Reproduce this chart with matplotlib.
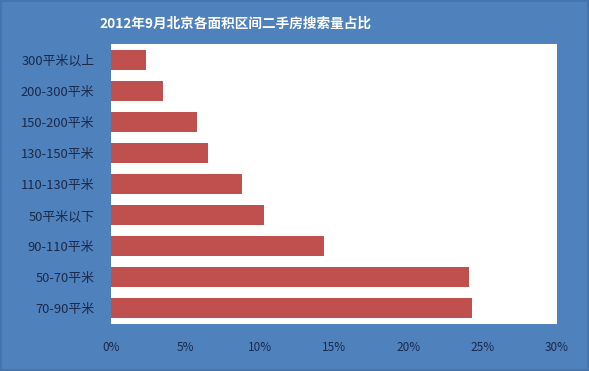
import matplotlib
matplotlib.use("Agg")
import matplotlib.pyplot as plt
from matplotlib.ticker import FuncFormatter

plt.rcParams['font.family'] = ['Noto Sans CJK SC', 'DejaVu Sans']

# data, top to bottom as shown
categories = ["300平米以上", "200-300平米", "150-200平米", "130-150平米", "110-130平米",
              "50平米以下", "90-110平米", "50-70平米", "70-90平米"]
shares = [2.35, 3.5, 5.8, 6.5, 8.8, 10.3, 14.3, 24.1, 24.3]
x_ticks = [0, 5, 10, 15, 20, 25, 30]
title = "2012年9月北京各面积区间二手房搜索量占比"

bg = "#4F81BD"
bar_col = "#C0504D"
txt_col = "#1A2A4A"

fig = plt.figure(figsize=(5.89, 3.71), dpi=100)
fig.patch.set_facecolor(bg)
fig.patch.set_edgecolor("#4675AE")
fig.patch.set_linewidth(1.5)

ax = fig.add_axes([111/589, 1 - 324/371, (557-111)/589, (324-44)/371])
ax.set_facecolor("white")

y = list(range(len(categories)))[::-1]
ax.barh(y, shares, height=0.64, color=bar_col)

ax.set_xlim(0, 30)
ax.set_ylim(-0.5, len(categories) - 0.5)
ax.set_yticks(y)
ax.set_yticklabels(categories, fontsize=9.3, color=txt_col)
ax.set_xticks(x_ticks)
ax.xaxis.set_major_formatter(FuncFormatter(lambda v, p: "%d%%" % v))
for lab in ax.get_xticklabels():
    lab.set_fontsize(8.5)
    lab.set_color(txt_col)
ax.tick_params(axis='y', length=0, pad=12)
ax.tick_params(axis='x', length=0, pad=12)
for s in ax.spines.values():
    s.set_visible(False)

fig.text(235/589, 1 - 24/371, title, color="white", fontsize=9.8,
         fontweight="bold", ha="center", va="center")

fig.savefig("out.png", dpi=100, facecolor=fig.get_facecolor(), edgecolor=fig.get_edgecolor())
